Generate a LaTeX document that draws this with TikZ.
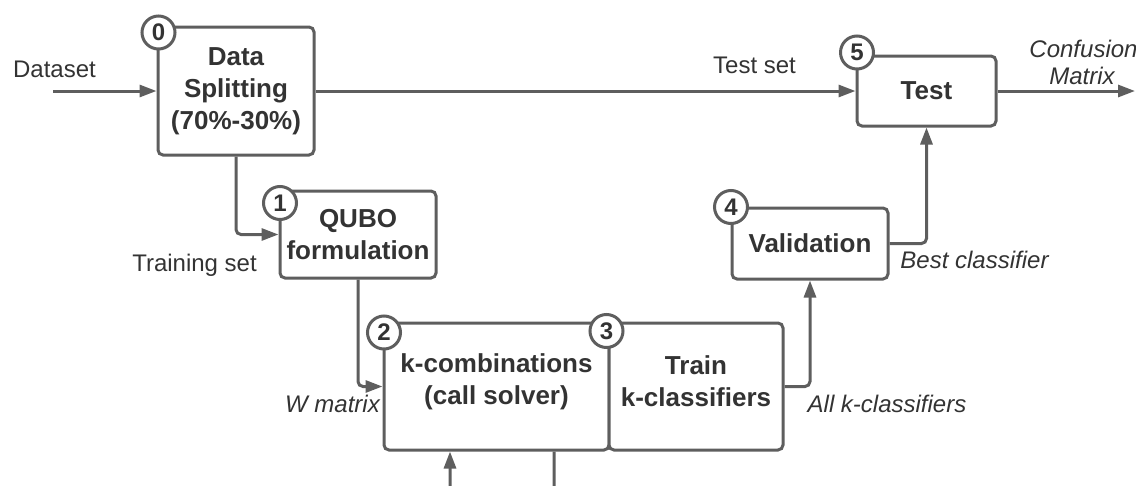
\documentclass[tikz,border=0pt]{standalone}
\usepackage{fontspec}
\setmainfont{Liberation Sans}
\usetikzlibrary{arrows.meta,calc}
\definecolor{linegray}{HTML}{5E5E5E}
\definecolor{textgray}{HTML}{333333}
\begin{document}
\begin{tikzpicture}[x=1pt,y=-1pt,
  box/.style={draw=linegray, line width=3pt, rounded corners=5pt, fill=white,
    inner sep=0pt, align=center, text=textgray,
    font=\fontsize{26}{32}\selectfont\bfseries},
  numcirc/.style={draw=linegray, line width=3pt, fill=white, circle,
    minimum size=33pt, inner sep=0pt, text=textgray,
    font=\fontsize{24}{24}\selectfont\bfseries},
  conn/.style={draw=linegray, line width=3pt, rounded corners=5pt,
    -{Triangle[length=17pt,width=12pt]}},
  lbl/.style={text=textgray, inner sep=0pt, anchor=base,
    font=\fontsize{24}{27}\selectfont},
  ilbl/.style={lbl, font=\fontsize{24}{27}\selectfont\itshape}
]
\useasboundingbox (0,0) rectangle (1136,485);

% boxes
\node[box, minimum width=156pt, minimum height=128pt] (B0) at (236,91) {Data\\Splitting\\(70\%-30\%)};
\node[box, minimum width=156pt, minimum height=87pt] (B1) at (358,234.5) {QUBO\\formulation};
\node[box, minimum width=225pt, minimum height=127pt] (B2) at (496.5,386.5) {};
\node[box, minimum width=174pt, minimum height=127pt] (B3) at (696,386.5) {};
\node[box, minimum width=156pt, minimum height=71pt] (B4) at (810,243.5) {Validation};
\node[box, minimum width=139pt, minimum height=70pt] (B5) at (926.5,91) {Test};

\node[box, draw=none, fill=none] (T2) at (496.5,381.5) {k-combinations\\(call solver)};
\node[box, draw=none, fill=none] (T3) at (696,381.5) {Train\\k-classifiers};

% number circles
\node[numcirc] (C0) at (158.5,32.5) {0};
\node[numcirc] (C1) at (280,203) {1};
\node[numcirc] (C2) at (384,332.5) {2};
\node[numcirc] (C3) at (606.5,331) {3};
\node[numcirc] (C4) at (731,207) {4};
\node[numcirc] (C5) at (857,52.5) {5};

% free ends
\coordinate (in) at (53,91);
\coordinate (out) at (1135,91);

% connectors
\draw[conn] (in) -- (B0.west);
\draw[conn] (B0.east) -- (B5.west);
\draw[conn] (B5.east) -- (out);
\draw[conn] (B0.south) |- (B1.west);
\draw[conn] (B1.south) |- (B2.west);
\draw[conn] (B3.east) -| (B4.south);
\draw[conn] (B4.east) -| (B5.south);
\draw[conn] ($(B2.south)+(57.5,0)$) -- ++(0,40) -| ($(B2.south)+(-46.5,0)$);

% labels
\node[lbl] (Ldata) at (54.5,77) {Dataset};
\node[lbl] (Ltest) at (754.5,73) {Test set};
\node[ilbl] (Lconf1) at (1083.5,57) {Confusion};
\node[ilbl] (Lconf2) at (1082,84) {Matrix};
\node[lbl] (Ltrain) at (194.5,271) {Training set};
\node[ilbl] (Lw) at (332.5,412) {W matrix};
\node[ilbl] (Lbest) at (974.5,268) {Best classifier};
\node[ilbl] (Lall) at (887,412) {All k-classifiers};
\end{tikzpicture}
\end{document}
